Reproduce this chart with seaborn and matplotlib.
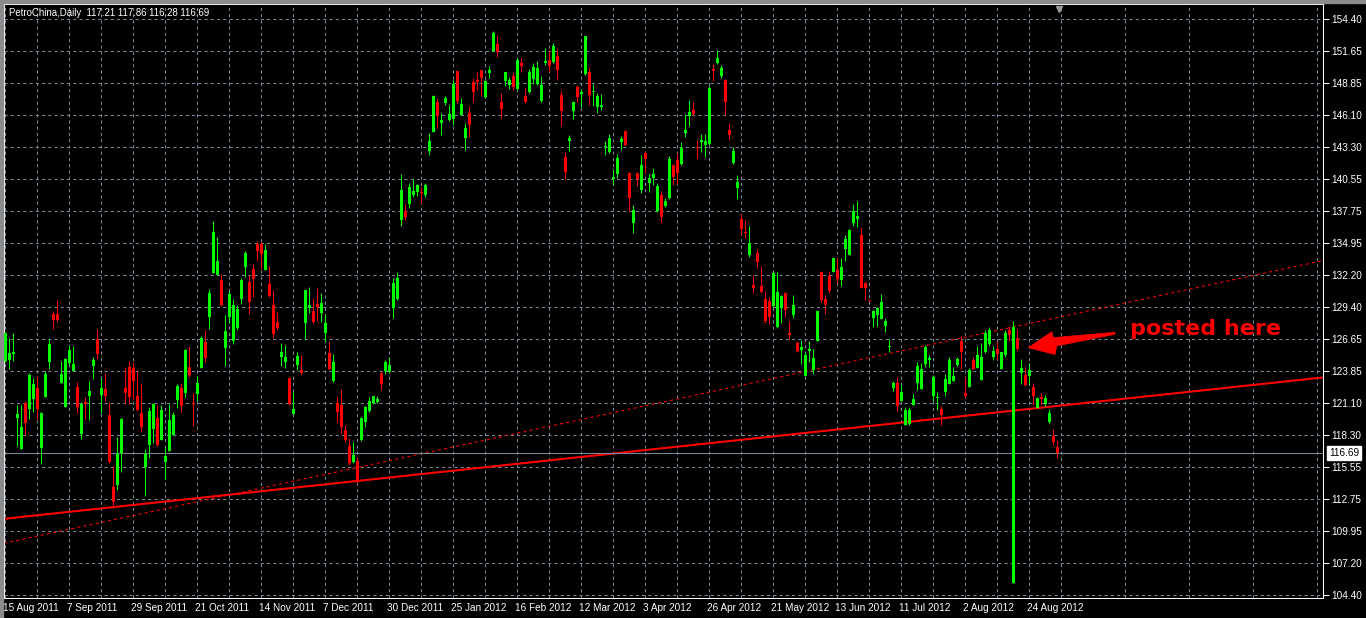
import numpy as np
import pandas as pd
import matplotlib
matplotlib.use("Agg")
import matplotlib.pyplot as plt
import matplotlib.transforms as mtransforms
from matplotlib.patches import Polygon, Rectangle
import seaborn as sns

# ---------------- data ----------------
chart_title = "PetroChina,Daily  117.21 117.86 116.28 116.69"

date_labels = ["15 Aug 2011", "7 Sep 2011", "29 Sep 2011", "21 Oct 2011", "14 Nov 2011",
               "7 Dec 2011", "30 Dec 2011", "25 Jan 2012", "16 Feb 2012", "12 Mar 2012",
               "3 Apr 2012", "26 Apr 2012", "21 May 2012", "13 Jun 2012", "11 Jul 2012",
               "2 Aug 2012", "24 Aug 2012"]
bars_per_label = 16
bars_per_grid = 8

price_ticks = ["154.40", "151.65", "148.85", "146.10", "143.30", "140.55", "137.75",
               "134.95", "132.20", "129.40", "126.65", "123.85", "121.10", "118.30",
               "115.55", "112.75", "109.95", "107.20", "104.40"]

opens = [124.68, 124.77, 125.29, 119.73, 117.04, 121.09, 120.51, 121.38, 122.39, 117.13,
         121.56, 124.59, 128.82, 128.82, 122.77, 120.69, 124.51, 123.81, 122.48, 118.34,
         121.18, 121.64, 124.25, 126.62, 121.73, 122.31, 120.05, 113.80, 113.92, 116.75,
         122.39, 124.22, 124.10, 121.70, 120.22, 115.48, 117.39, 118.78, 119.79, 117.82,
         115.91, 116.87, 118.26, 121.35, 122.39, 121.90, 124.19, 121.05, 121.84, 124.14,
         126.40, 128.51, 132.33, 132.19, 131.73, 125.82, 128.51, 126.43, 127.56, 130.08,
         132.85, 131.55, 132.68, 134.85, 134.85, 132.59, 131.38, 129.56, 128.08, 125.04,
         124.61, 123.22, 120.09, 124.35, 123.94, 127.99, 129.30, 129.03, 129.64, 128.86,
         127.12, 125.39, 122.96, 121.05, 120.87, 118.70, 117.31, 115.93, 116.01, 117.83,
         119.40, 120.35, 121.05, 121.13, 123.65, 123.83, 123.74, 129.30, 130.08, 136.94,
         137.72, 138.32, 139.14, 139.38, 139.34, 139.09, 142.91, 144.59, 147.16, 145.37,
         147.07, 145.60, 145.69, 149.85, 146.06, 144.04, 146.24, 148.90, 149.10, 149.94,
         147.60, 149.68, 151.65, 152.20, 147.16, 148.98, 148.64, 149.42, 148.29, 150.55,
         147.68, 148.03, 149.16, 148.72, 147.25, 150.55, 150.81, 150.63, 151.15, 147.77,
         142.39, 143.78, 146.38, 148.46, 147.86, 149.59, 149.77, 148.09, 146.73, 146.73,
         143.28, 142.82, 140.55, 140.92, 143.69, 144.65, 141.00, 136.66, 141.00, 139.53,
         142.74, 140.14, 140.57, 137.70, 139.09, 138.14, 138.83, 141.70, 142.13, 141.78,
         144.48, 145.95, 146.47, 143.29, 143.69, 143.43, 143.52, 150.03, 150.55, 149.42,
         149.08, 144.74, 141.87, 139.70, 137.01, 135.91, 133.88, 131.28, 134.06, 131.19,
         130.06, 129.89, 129.46, 127.63, 129.28, 130.58, 127.06, 128.67, 126.24, 125.71,
         123.45, 125.62, 123.97, 126.49, 132.48, 130.13, 132.13, 132.48, 132.65, 131.78,
         134.47, 133.95, 136.65, 137.08, 135.69, 131.52, 129.95, 128.48, 128.74, 128.40,
         127.79, 125.91, 122.41, 122.84, 121.28, 119.19, 119.27, 120.93, 122.84, 122.32,
         124.49, 124.84, 121.71, 121.54, 120.58, 122.06, 122.75, 123.01, 124.40, 126.49,
         121.97, 122.49, 124.84, 124.14, 123.10, 125.45, 126.23, 125.10, 125.79, 124.06,
         125.27, 127.44, 105.48, 126.75, 123.71, 123.54, 123.45, 122.49, 120.67, 121.63,
         121.02, 119.46, 118.24, 117.21]

highs = [127.23, 126.71, 127.17, 120.92, 120.92, 121.27, 123.70, 123.26, 123.41, 120.28,
         123.87, 126.59, 129.08, 130.01, 124.71, 125.00, 126.13, 126.04, 122.92, 121.15,
         121.56, 122.97, 125.09, 127.52, 123.23, 123.70, 121.18, 115.59, 118.14, 119.79,
         124.22, 124.68, 124.65, 123.81, 122.83, 117.10, 120.69, 121.03, 120.86, 120.86,
         117.27, 120.95, 120.28, 122.68, 122.83, 125.78, 125.98, 121.96, 123.41, 126.92,
         127.44, 130.94, 136.85, 135.46, 132.30, 128.69, 130.83, 130.08, 129.56, 131.90,
         134.24, 132.16, 133.12, 135.11, 135.03, 134.85, 132.94, 130.86, 128.95, 126.26,
         126.08, 123.25, 122.00, 125.48, 125.21, 130.86, 131.12, 130.16, 131.03, 130.60,
         128.77, 126.43, 125.30, 121.57, 122.26, 119.14, 118.01, 117.66, 116.42, 119.83,
         120.79, 121.57, 121.70, 121.66, 123.74, 124.78, 125.04, 131.90, 132.42, 140.93,
         138.32, 140.15, 140.48, 140.07, 139.84, 140.19, 144.47, 147.80, 147.42, 146.21,
         147.71, 146.90, 149.10, 149.88, 147.51, 145.34, 146.81, 149.24, 149.77, 149.97,
         149.07, 150.29, 153.33, 152.98, 147.94, 149.80, 149.33, 149.68, 150.98, 150.98,
         148.38, 150.03, 150.55, 150.72, 149.42, 151.85, 151.68, 152.28, 151.76, 148.12,
         142.82, 144.30, 147.25, 148.64, 148.20, 152.92, 150.20, 148.72, 147.94, 147.86,
         143.78, 144.38, 141.35, 142.65, 144.22, 144.68, 141.09, 138.23, 141.03, 142.57,
         142.91, 140.92, 141.44, 140.14, 139.44, 138.83, 142.48, 141.73, 142.74, 143.69,
         146.13, 147.34, 147.17, 143.87, 144.39, 144.39, 148.56, 150.47, 151.68, 150.38,
         149.16, 145.34, 143.26, 140.83, 137.44, 136.92, 136.40, 132.15, 134.41, 132.93,
         130.76, 130.24, 132.41, 132.41, 130.41, 130.67, 128.15, 130.41, 126.42, 126.57,
         125.53, 126.49, 125.79, 129.09, 132.56, 130.48, 132.56, 133.64, 133.69, 133.61,
         135.69, 136.21, 138.38, 138.56, 136.30, 131.61, 130.00, 129.18, 129.44, 130.57,
         128.48, 126.63, 123.01, 123.36, 122.67, 120.76, 120.76, 121.89, 124.66, 124.58,
         126.14, 125.27, 123.54, 122.06, 120.84, 123.62, 125.10, 124.23, 125.10, 126.92,
         123.28, 124.14, 125.10, 126.05, 126.31, 127.36, 127.62, 126.05, 126.40, 125.48,
         127.44, 127.79, 128.22, 127.53, 124.92, 124.23, 124.58, 122.84, 121.57, 121.97,
         121.80, 120.58, 118.85, 117.86]

lows = [124.62, 123.99, 124.68, 117.30, 117.04, 118.26, 119.65, 120.28, 119.70, 115.74,
        121.56, 124.04, 127.46, 128.10, 122.77, 120.69, 124.33, 123.81, 120.20, 117.91,
        119.65, 119.56, 123.18, 124.85, 120.22, 121.21, 115.85, 112.03, 113.48, 115.04,
        121.01, 120.95, 121.44, 120.34, 118.55, 112.99, 116.26, 117.62, 117.36, 117.82,
        114.47, 116.87, 118.26, 120.63, 120.25, 121.58, 123.29, 119.07, 121.21, 124.09,
        124.66, 127.47, 132.33, 132.19, 129.50, 124.26, 127.99, 126.17, 127.39, 129.64,
        131.99, 128.77, 130.25, 133.38, 132.68, 132.59, 130.25, 126.69, 127.39, 124.26,
        124.09, 120.93, 120.09, 123.91, 123.48, 126.60, 128.86, 128.05, 128.17, 128.08,
        126.34, 123.97, 122.93, 119.40, 118.36, 117.66, 115.69, 115.90, 114.10, 117.80,
        118.96, 120.32, 121.00, 121.10, 122.18, 123.57, 123.70, 128.43, 130.05, 136.41,
        136.94, 137.98, 138.97, 139.03, 138.39, 138.97, 142.56, 144.56, 144.93, 144.30,
        146.90, 145.51, 145.19, 147.07, 146.03, 142.99, 144.15, 147.16, 148.23, 147.68,
        147.57, 149.24, 151.62, 151.07, 145.77, 148.55, 148.29, 148.20, 148.26, 149.77,
        147.07, 148.00, 148.72, 148.70, 147.22, 150.37, 149.77, 150.60, 149.07, 145.08,
        140.50, 142.91, 145.69, 147.16, 146.73, 149.56, 146.90, 146.81, 146.21, 146.47,
        142.56, 142.73, 139.96, 140.57, 143.00, 143.40, 137.70, 135.79, 139.87, 139.27,
        141.00, 139.35, 139.96, 137.67, 136.66, 138.05, 138.80, 139.96, 140.05, 141.70,
        144.13, 145.08, 146.04, 142.22, 142.83, 142.39, 143.49, 148.99, 150.52, 149.25,
        146.04, 143.87, 141.84, 138.75, 135.62, 135.36, 133.71, 130.58, 132.76, 130.58,
        127.98, 127.89, 129.43, 127.60, 127.98, 128.50, 126.59, 128.41, 125.46, 124.49,
        123.42, 124.66, 123.62, 126.46, 129.79, 128.83, 130.65, 132.45, 131.52, 131.26,
        133.43, 133.92, 136.47, 136.38, 131.06, 130.05, 129.90, 127.62, 127.79, 128.37,
        127.27, 125.53, 122.15, 120.41, 121.25, 119.16, 119.16, 120.90, 122.23, 122.29,
        124.23, 124.23, 121.28, 120.50, 119.19, 121.71, 122.72, 122.98, 124.32, 124.06,
        121.63, 122.46, 124.03, 124.11, 123.07, 125.42, 126.05, 124.84, 124.92, 124.03,
        125.10, 126.49, 105.45, 125.71, 122.75, 122.58, 122.75, 120.93, 120.64, 120.93,
        120.84, 119.37, 117.46, 116.28]

closes = [127.17, 125.43, 125.46, 120.14, 119.01, 119.30, 123.52, 122.74, 120.51, 120.22,
          123.61, 126.21, 128.24, 128.24, 123.61, 124.85, 125.69, 124.48, 120.69, 121.01,
          120.95, 122.13, 124.83, 125.29, 122.39, 121.64, 115.91, 112.47, 116.61, 119.70,
          121.90, 121.56, 122.94, 120.43, 118.95, 116.61, 120.40, 120.98, 117.39, 120.48,
          116.49, 119.62, 120.05, 122.51, 120.77, 125.69, 123.47, 120.98, 122.83, 126.69,
          124.95, 130.60, 135.89, 133.38, 129.56, 127.30, 130.51, 129.56, 129.21, 131.73,
          134.07, 129.82, 131.81, 134.24, 133.98, 134.33, 130.34, 127.04, 127.56, 125.48,
          125.04, 120.96, 120.53, 125.13, 123.65, 130.86, 129.56, 128.08, 129.38, 129.73,
          127.99, 124.00, 124.61, 120.27, 118.96, 117.83, 115.84, 116.53, 114.30, 119.74,
          120.70, 121.22, 121.66, 121.39, 122.70, 124.61, 124.35, 131.47, 131.90, 139.54,
          137.20, 139.80, 139.43, 139.98, 139.28, 140.01, 143.78, 147.71, 145.95, 145.60,
          147.54, 146.12, 148.75, 147.28, 146.99, 144.90, 145.16, 148.03, 148.93, 149.27,
          148.98, 149.94, 153.15, 151.50, 146.55, 149.77, 149.07, 148.46, 150.81, 150.29,
          147.16, 149.77, 150.20, 150.11, 148.64, 150.72, 150.29, 152.02, 149.94, 146.38,
          141.08, 144.04, 147.16, 147.60, 148.03, 152.89, 147.77, 148.15, 147.68, 146.90,
          143.34, 144.04, 140.60, 142.31, 143.96, 143.43, 138.83, 137.79, 140.48, 141.70,
          142.22, 140.57, 140.92, 139.87, 137.18, 138.57, 142.22, 140.66, 141.00, 143.17,
          144.74, 146.30, 146.13, 143.23, 143.87, 143.78, 148.38, 149.86, 150.99, 150.12,
          147.17, 144.30, 142.91, 140.22, 136.14, 135.85, 134.93, 131.02, 133.28, 130.67,
          128.15, 128.50, 132.32, 130.67, 130.32, 129.11, 127.01, 129.54, 125.55, 125.97,
          125.27, 125.79, 125.01, 129.01, 130.05, 129.53, 130.83, 133.61, 131.87, 132.83,
          135.34, 136.04, 137.77, 137.34, 131.09, 131.09, 129.93, 129.09, 129.27, 129.79,
          128.22, 125.97, 122.84, 120.84, 122.06, 120.50, 120.50, 121.45, 124.32, 124.06,
          125.97, 124.90, 123.28, 121.60, 120.06, 123.19, 124.84, 123.45, 124.92, 125.45,
          121.71, 123.97, 124.06, 125.19, 125.10, 127.10, 127.44, 125.62, 125.36, 125.45,
          127.10, 127.01, 127.62, 125.79, 124.14, 122.67, 123.97, 121.71, 121.54, 121.45,
          121.54, 120.24, 117.72, 116.69]

last_price = 116.69
support_points = [(27, 112.03), (88, 114.30)]      # solid trend line
channel_points = [(0, 108.92), (252, 127.67)]      # dotted trend line
note_text = "posted here"
note_anchor = (281.2, 126.97)
arrow_bars = [255.75, 261.6, 262.0, 277.4, 277.4, 262.85, 262.4]
arrow_prices = [125.87, 127.26, 126.74, 127.21, 127.03, 126.02, 125.27]

# ---------------- style ----------------
sns.set_theme(style="dark", rc={
    "axes.facecolor": "black", "figure.facecolor": "black",
    "axes.edgecolor": "white", "text.color": "white",
    "xtick.color": "white", "ytick.color": "white",
    "axes.axisbelow": True,
})
plt.rcParams["font.family"] = ["Liberation Sans", "DejaVu Sans"]

UP, DOWN = "#00ff00", "#ff0000"
GRID = "#778899"

df = pd.DataFrame({"open": opens, "high": highs, "low": lows, "close": closes})
df["bar"] = np.arange(len(df))
df["up"] = df["close"] >= df["open"]
df["color"] = np.where(df["up"], UP, DOWN)

W, H = 1366, 618
fig = plt.figure(figsize=(W / 100, H / 100), dpi=100, facecolor="black")
ax = fig.add_axes([4 / W, (H - 598) / H, (1323 - 4) / W, (598 - 4) / H])
ax.set_facecolor("black")

# window frame strips
fig.patches.append(Rectangle((0, 1 - 3 / H), 1, 3 / H, transform=fig.transFigure,
                             color="#8c8c8c", zorder=0))
fig.patches.append(Rectangle((0, 0), 3 / W, 1, transform=fig.transFigure,
                             color="#8c8c8c", zorder=0))

# trend lines and current price line
ax.axline(support_points[0], support_points[1], color=DOWN, lw=1.5, zorder=2)
ax.axline(channel_points[0], channel_points[1], color=DOWN, lw=0.75,
          linestyle=(0, (3, 3)), zorder=2)
ax.axhline(last_price, color=GRID, lw=0.75, zorder=2)

# candles
ax.vlines(df["bar"], df["low"], df["high"], colors=df["color"], linewidth=0.75, zorder=3)
body_low = np.minimum(df["open"], df["close"])
body_h = np.maximum((df["close"] - df["open"]).abs(), 0.09)
ax.bar(df["bar"], body_h, bottom=body_low, width=0.75, color=df["color"],
       linewidth=0, zorder=4)

# axes ranges
ax.set_xlim(-0.325, 329.4)
ax.set_ylim(104.14, 155.70)

# y axis on right
ax.yaxis.tick_right()
ax.set_yticks([float(t) for t in price_ticks])
ax.set_yticklabels(price_ticks)
ax.tick_params(axis="y", which="major", colors="white", length=4, width=0.75,
               labelsize=7.2, pad=2, direction="out")

# x axis
ax.set_xticks(np.arange(len(date_labels)) * bars_per_label)
ax.set_xticklabels(date_labels)
ax.set_xticks(np.arange(bars_per_grid, 330, bars_per_grid * 2), minor=True)
ax.tick_params(axis="x", which="major", colors="white", length=3, width=0.75,
               labelsize=7.2, pad=0.5, direction="out")
ax.tick_params(axis="x", which="minor", length=0)
shift = mtransforms.ScaledTranslation(-2 / 100, 0, fig.dpi_scale_trans)
for lab in ax.get_xticklabels():
    lab.set_horizontalalignment("left")
    lab.set_transform(lab.get_transform() + shift)

# dashed grid
ax.grid(True, which="both", axis="x", color=GRID, lw=0.75, linestyle=(0, (3, 3)))
ax.grid(True, which="major", axis="y", color=GRID, lw=0.75, linestyle=(0, (3, 3)))

for sp in ax.spines.values():
    sp.set_color("white")
    sp.set_linewidth(0.75)
    sp.set_visible(True)

# current price label box
ax.annotate(f"{last_price:.2f}", xy=(1.0, last_price),
            xycoords=mtransforms.blended_transform_factory(ax.transAxes, ax.transData),
            xytext=(6, 0), textcoords="offset pixels", ha="left", va="center",
            fontsize=7.2, color="black", annotation_clip=False,
            bbox=dict(boxstyle="square,pad=0.2", fc="white", ec="white"))

# chart shift marker
ax.plot([len(df) - 0.5], [0.992], marker="v", markersize=4.5, color="#9a9a9a",
        transform=mtransforms.blended_transform_factory(ax.transData, ax.transAxes),
        clip_on=False, zorder=6)

# title
fig.text(9.3 / W, 1 - 13.3 / H, chart_title, ha="left", va="center",
         fontsize=6.9, color="white")

# annotation
ax.add_patch(Polygon(np.column_stack([arrow_bars, arrow_prices]), closed=True,
                     facecolor=DOWN, edgecolor=DOWN, lw=0.5, zorder=7))
ax.text(note_anchor[0], note_anchor[1], note_text, ha="left", va="baseline",
        fontsize=16, fontweight="bold", color=DOWN, family="DejaVu Sans", zorder=7)

fig.savefig("out.png", dpi=100, facecolor="black")
